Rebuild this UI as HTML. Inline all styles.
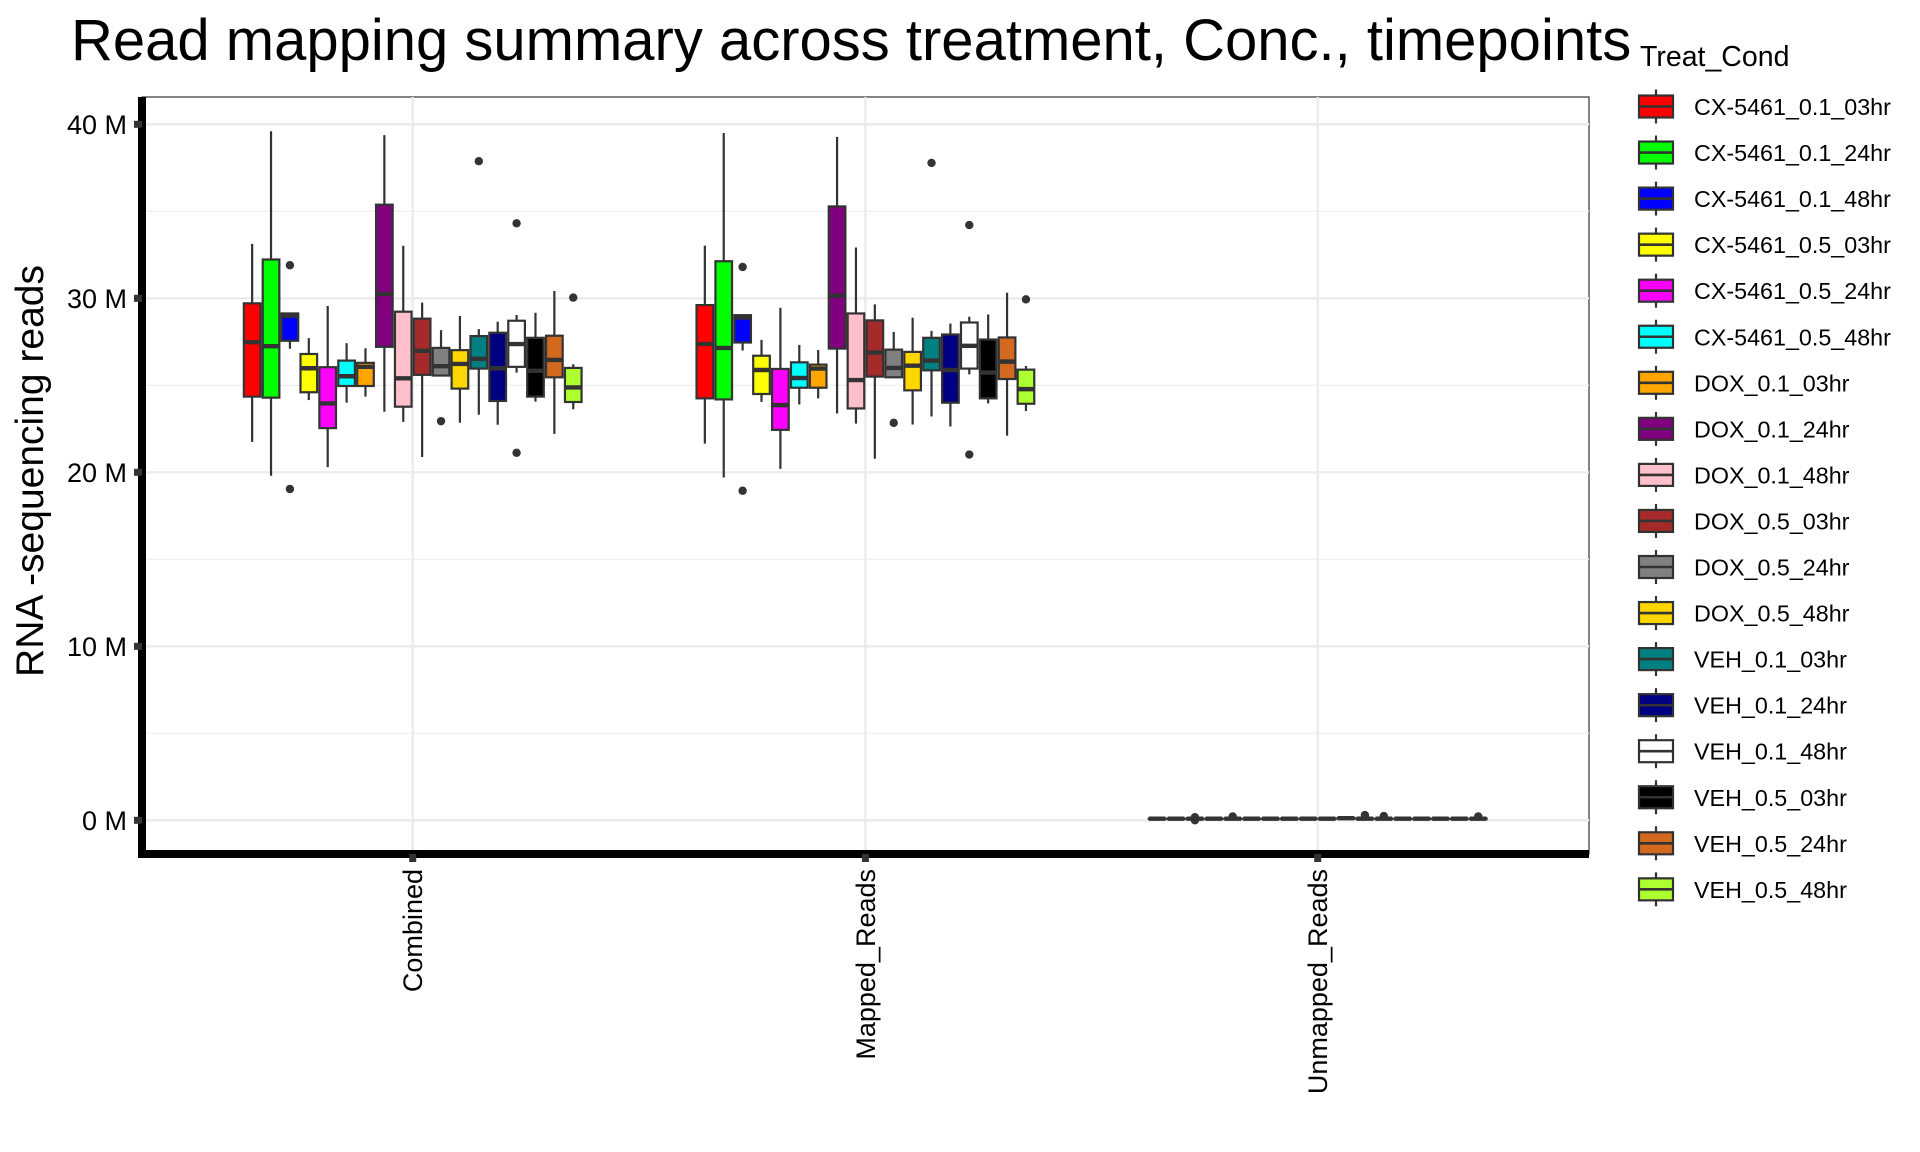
<!DOCTYPE html>
<html><head><meta charset="utf-8"><style>
html,body{margin:0;padding:0;background:#fff}
svg{display:block;font-family:"Liberation Sans",Arial,sans-serif}
</style></head><body>
<svg id="chart" width="1920" height="1152" viewBox="0 0 1920 1152" xmlns="http://www.w3.org/2000/svg">
<text x="71" y="60" font-size="58" fill="#000">Read mapping summary across treatment, Conc., timepoints</text>
<text transform="translate(43,471) rotate(-90)" text-anchor="middle" font-size="39" fill="#000">RNA -sequencing reads</text>
<text x="1640" y="66" font-size="28.5" fill="#000">Treat_Cond</text>
<g id="grid"></g>
<g id="boxes"></g>
<g id="axes"></g>
<g id="legend"></g>
</svg>
<script>
const categories = ["Combined","Mapped_Reads","Unmapped_Reads"];
const conditions = ["CX-5461_0.1_03hr","CX-5461_0.1_24hr","CX-5461_0.1_48hr","CX-5461_0.5_03hr","CX-5461_0.5_24hr","CX-5461_0.5_48hr","DOX_0.1_03hr","DOX_0.1_24hr","DOX_0.1_48hr","DOX_0.5_03hr","DOX_0.5_24hr","DOX_0.5_48hr","VEH_0.1_03hr","VEH_0.1_24hr","VEH_0.1_48hr","VEH_0.5_03hr","VEH_0.5_24hr","VEH_0.5_48hr"];
const colors = ["#FF0000","#00FF00","#0000FF","#FFFF00","#FF00FF","#00FFFF","#FFA500","#800080","#FFC0CB","#A52A2A","#808080","#FFD700","#008080","#000080","#FFFFFF","#000000","#D2691E","#ADFF2F"];
const yTicks = [0,10,20,30,40];
const yTickLabels = ["0 M","10 M","20 M","30 M","40 M"];
// [whiskerLow, q1, median, q3, whiskerHigh] in millions
const combinedStats = [
[21.75,24.35,27.48,29.71,33.13],[19.8,24.29,27.25,32.23,39.6],[27.1,27.56,29.0,29.13,29.13],
[24.15,24.6,25.98,26.8,27.71],[20.3,22.54,23.96,26.04,29.56],[24.0,24.96,25.52,26.42,27.42],
[24.35,24.96,26.06,26.29,27.13],[23.48,27.21,30.25,35.38,39.38],[22.9,23.77,25.4,29.23,33.02],
[20.88,25.6,26.98,28.83,29.75],[25.56,25.56,26.1,27.15,28.17],[22.85,24.81,26.23,27.02,28.98],
[23.31,25.96,26.52,27.83,28.23],[22.73,24.1,25.98,28.02,28.65],[25.73,26.06,27.37,28.71,29.04],
[24.06,24.35,25.83,27.73,29.17],[22.21,25.46,26.46,27.85,30.42],[23.62,24.04,24.88,26.0,26.21]];
const combinedOutliers = [[],[],[31.9,19.04],[],[],[],[],[],[],[],[22.94],[],[37.88],[],[34.31,21.12],[],[],[30.04]];
const mappedStats = [
[21.65,24.25,27.38,29.61,33.03],[19.7,24.19,27.15,32.13,39.5],[27.0,27.46,28.9,29.03,29.03],
[24.05,24.5,25.88,26.7,27.61],[20.2,22.44,23.86,25.94,29.46],[23.9,24.86,25.42,26.32,27.32],
[24.25,24.86,25.96,26.19,27.03],[23.38,27.11,30.15,35.28,39.28],[22.8,23.67,25.3,29.13,32.92],
[20.78,25.5,26.88,28.73,29.65],[25.46,25.46,26.0,27.05,28.07],[22.75,24.71,26.13,26.92,28.88],
[23.21,25.86,26.42,27.73,28.13],[22.63,24.0,25.88,27.92,28.55],[25.63,25.96,27.27,28.61,28.94],
[23.96,24.25,25.73,27.63,29.07],[22.11,25.36,26.36,27.75,30.32],[23.52,23.94,24.78,25.9,26.11]];
const mappedOutliers = [[],[],[31.8,18.94],[],[],[],[],[],[],[],[22.84],[],[37.78],[],[34.21,21.02],[],[],[29.94]];
const unmappedStats = [
[0.08,0.08,0.09,0.1,0.1],[0.08,0.08,0.09,0.1,0.1],[0.08,0.08,0.09,0.1,0.1],
[0.08,0.08,0.09,0.1,0.1],[0.08,0.08,0.09,0.1,0.1],[0.08,0.08,0.09,0.1,0.1],
[0.08,0.08,0.09,0.1,0.1],[0.08,0.08,0.09,0.1,0.1],[0.08,0.08,0.09,0.1,0.1],
[0.08,0.08,0.09,0.1,0.1],[0.1,0.1,0.12,0.14,0.14],[0.08,0.08,0.09,0.1,0.1],
[0.08,0.08,0.09,0.1,0.1],[0.08,0.08,0.09,0.1,0.1],[0.08,0.08,0.09,0.1,0.1],
[0.08,0.08,0.09,0.1,0.1],[0.08,0.08,0.09,0.1,0.1],[0.08,0.08,0.09,0.1,0.1]];
const unmappedOutliers = [[],[],[0.0,0.18],[],[0.22],[],[],[],[],[],[],[0.3],[0.24],[],[],[],[],[0.22]];

const statsByCat = [combinedStats, mappedStats, unmappedStats];
const outByCat = [combinedOutliers, mappedOutliers, unmappedOutliers];

const NS = "http://www.w3.org/2000/svg";
const P = {left:142, right:1589, top:97, bottom:854};
const yScale = v => 124.3 + (40 - v) * 17.4;
const catX = [412.7, 865.4, 1317.7];
const xScale = i => catX[i];
const dodgeW = 340, slot = dodgeW / conditions.length, boxW = slot * 0.88;

function mk(tag, attrs, parent){
  const e = document.createElementNS(NS, tag);
  for (const k in attrs) e.setAttribute(k, attrs[k]);
  parent.appendChild(e);
  return e;
}
const grid = document.getElementById('grid');
const boxes = document.getElementById('boxes');
const axes = document.getElementById('axes');
const legend = document.getElementById('legend');

const bg = mk('rect',{x:P.left,y:P.top,width:P.right-P.left,height:P.bottom-P.top,fill:'#fff',stroke:'#333','stroke-width':1.2},grid);


for (let v = 5; v < 45; v += 10) {
  const l = mk('line',{x1:P.left,x2:P.right,y1:yScale(v),y2:yScale(v),stroke:'#f0f0f0','stroke-width':1.3},grid);
  
  
}
yTicks.forEach((v,i) => {
  const l = mk('line',{x1:P.left,x2:P.right,y1:yScale(v),y2:yScale(v),stroke:'#ebebeb','stroke-width':2.4},grid);
  
  
});
categories.forEach((c,i) => {
  const l = mk('line',{x1:xScale(i),x2:xScale(i),y1:P.top,y2:P.bottom,stroke:'#ebebeb','stroke-width':2.4},grid);
  
  
});

categories.forEach((c,ci) => {
  const stats = statsByCat[ci], outs = outByCat[ci];
  const x0 = xScale(ci) - dodgeW/2;
  stats.forEach((s,k) => {
    const cx = x0 + slot*(k+0.5);
    const g = mk('g',{},boxes);
    
    
    mk('line',{x1:cx,x2:cx,y1:yScale(s[0]),y2:yScale(s[4]),stroke:'#333','stroke-width':2.2},g);
    const top = yScale(s[3]), bot = yScale(s[1]);
    mk('rect',{x:cx-boxW/2,y:top,width:boxW,height:Math.max(bot-top,0.5),fill:colors[k],stroke:'#333','stroke-width':2.2},g);
    mk('line',{x1:cx-boxW/2,x2:cx+boxW/2,y1:yScale(s[2]),y2:yScale(s[2]),stroke:'#333','stroke-width':4.4},g);
    outs[k].forEach(o => {
      const p = mk('circle',{cx:cx,cy:yScale(o),r:4.2,fill:'#333'},g);
      
      
    });
  });
});

const ya = mk('line',{x1:P.left,x2:P.left,y1:P.top,y2:P.bottom+4,stroke:'#000','stroke-width':8},axes);


const xa = mk('line',{x1:P.left-4,x2:P.right,y1:P.bottom,y2:P.bottom,stroke:'#000','stroke-width':8},axes);


yTicks.forEach((v,i) => {
  const t = mk('rect',{x:P.left-8,y:yScale(v)-3.5,width:8,height:7,fill:'#333'},axes);
  
  
  const tx = mk('text',{x:127,y:yScale(v)+9.5,'text-anchor':'end','font-size':27,fill:'#000'},axes);
  tx.textContent = yTickLabels[i];
  
  
});
categories.forEach((c,i) => {
  const t = mk('rect',{x:xScale(i)-3.5,y:P.bottom,width:7,height:8,fill:'#333'},axes);
  
  
  const tx = mk('text',{transform:`translate(${xScale(i)+9.5},869) rotate(-90)`,'text-anchor':'end','font-size':27,fill:'#000'},axes);
  tx.textContent = c;
  
  
});

conditions.forEach((c,k) => {
  const cy = 106.5 + k*46.05;
  const g = mk('g',{},legend);
  
  
  mk('line',{x1:1656,x2:1656,y1:cy-17,y2:cy+17,stroke:'#333','stroke-width':2.2},g);
  mk('rect',{x:1639,y:cy-11,width:34,height:22,fill:colors[k],stroke:'#333','stroke-width':2.2},g);
  mk('line',{x1:1639,x2:1673,y1:cy,y2:cy,stroke:'#333','stroke-width':2.6},g);
  const tx = mk('text',{x:1694,y:cy+8.5,'font-size':23.3,fill:'#000'},g);
  tx.textContent = c;
  
  
});
</script>
</body></html>
